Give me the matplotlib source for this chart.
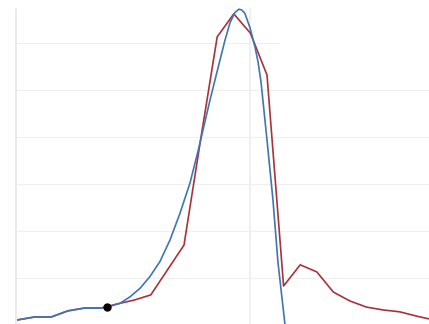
import matplotlib
matplotlib.use("Agg")
import matplotlib.pyplot as plt
import numpy as np

# observed series (red, straight segments)
x_obs = np.arange(26)
y_obs = [0.11, 0.17, 0.17, 0.30, 0.36, 0.36, 0.45, 0.53, 0.64, 1.17, 1.70, 3.94, 6.13,
         6.62, 6.21, 5.32, 0.83, 1.28, 1.13, 0.70, 0.51, 0.38, 0.32, 0.28, 0.19, 0.11]

# fitted curve (blue)
x_fit = [0, 1, 2, 3, 4, 5, 5.36, 6.14, 6.75, 7.35, 7.95, 8.55, 9.16, 9.76, 10.36,
         10.86, 11.57, 12.17, 12.47, 12.77, 13.07, 13.31, 13.49, 13.67, 13.98, 14.28,
         14.46, 14.64, 15.0, 15.36, 15.66, 16.08, 16.20]
y_fit = [0.11, 0.17, 0.17, 0.30, 0.36, 0.36, 0.38, 0.46, 0.60, 0.78, 1.03, 1.35, 1.81,
         2.38, 3.02, 3.72, 4.79, 5.64, 6.06, 6.43, 6.65, 6.72, 6.70, 6.63, 6.32, 5.91,
         5.60, 5.17, 3.94, 2.66, 1.34, 0.02, -0.43]

# highlighted point
x_dot = 5.36
y_dot = 0.38

y_grid = [1, 2, 3, 4, 5, 6]
x_grid = 14

fig = plt.figure(figsize=(4.29, 3.24), dpi=100)
ax = fig.add_axes([0, 0, 1, 1])
x0, x1 = -1.084, 24.76
y0, y1 = 0.021, 6.915
ax.set_xlim(x0, x1)
ax.set_ylim(y0, y1)
ax.axis("off")

left = -0.15
top = 6.72
fl = (left - x0) / (x1 - x0)
ft = (top - y0) / (y1 - y0)
for g in y_grid:
    xmax = 1.0
    if g == y_grid[-1]:
        xmax = (15.72 - x0) / (x1 - x0)
    ax.axhline(g, xmin=fl, xmax=xmax, color="#efefef", lw=0.8, zorder=1)
ax.axvline(left, ymin=0, ymax=ft, color="#e6e6e6", lw=1.1, zorder=1)
ax.axvline(x_grid, ymin=0, ymax=ft, color="#eeeeee", lw=1.2, zorder=1)

ax.plot(x_obs, y_obs, color="#a8323a", lw=1.2, zorder=3)
ax.plot(x_fit, y_fit, color="#3f76b2", lw=1.2, zorder=4)
ax.plot([x_dot], [y_dot], "o", color="black", markersize=5, zorder=5)

plt.savefig("out.png", dpi=100)
